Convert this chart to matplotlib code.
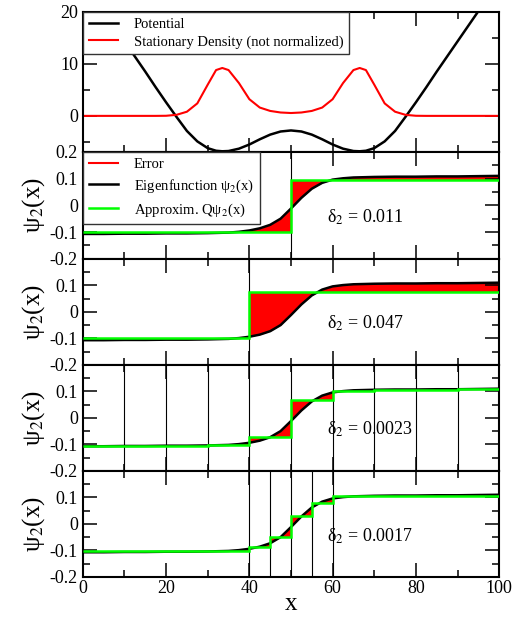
import numpy as np
import matplotlib.pyplot as plt
from matplotlib.ticker import MultipleLocator

plt.rcParams['font.family'] = ['Liberation Serif', 'DejaVu Serif']
plt.rcParams['mathtext.fontset'] = 'stix'

# top panel: potential and stationary density
x_top = [0, 2.5, 5, 7.5, 10, 12.5, 15, 17.5, 20, 22.5, 25, 27.5, 30, 32, 33.5, 35, 37.5, 40, 42.5, 45, 47.5,
         50, 52.5, 55, 57.5, 60, 62.5, 65, 66.5, 68, 70, 72.5, 75, 77.5, 80, 82.5, 85, 87.5, 90, 92.5, 95, 97.5, 100]
potential = [26.0, 23.0, 20.1, 17.2, 14.3, 11.4, 8.5, 5.5, 2.6, -0.2, -2.9, -4.9, -6.2, -6.7, -6.8, -6.75, -6.3,
             -5.5, -4.5, -3.6, -3.0, -2.8, -3.0, -3.6, -4.5, -5.5, -6.3, -6.75, -6.8, -6.7, -6.2, -4.9, -2.9,
             -0.2, 2.6, 5.5, 8.5, 11.4, 14.3, 17.2, 20.1, 23.0, 26.0]
density = [0, 0, 0, 0, 0, 0, 0, 0, 0.02, 0.2, 0.8, 2.4, 6.0, 8.8, 9.2, 8.8, 6.3, 3.2, 1.6, 0.95, 0.65,
           0.55, 0.65, 0.95, 1.6, 3.2, 6.3, 8.8, 9.2, 8.8, 6.0, 2.4, 0.8, 0.2, 0.02, 0, 0, 0, 0, 0, 0, 0, 0]

# second eigenfunction
x_psi = [0, 5, 10, 15, 20, 25, 30, 35, 37.5, 40, 42.5, 45, 47.5, 50, 52.5, 55, 57.5, 60, 62.5, 65,
         70, 75, 80, 85, 90, 95, 100]
psi = [-0.107, -0.107, -0.106, -0.106, -0.105, -0.105, -0.104, -0.102, -0.099, -0.094, -0.086, -0.073,
       -0.050, -0.012, 0.028, 0.062, 0.084, 0.096, 0.101, 0.104, 0.106, 0.107, 0.107, 0.108, 0.108,
       0.109, 0.110]

# piecewise constant approximations (cell edges, levels)
edges_a = [0, 50, 100]
q_a = [-0.100, 0.095]
edges_b = [0, 40, 100]
q_b = [-0.100, 0.076]
edges_c = [0, 10, 20, 30, 40, 50, 60, 70, 80, 90, 100]
q_c = [-0.107, -0.106, -0.105, -0.103, -0.074, 0.067, 0.101, 0.106, 0.107, 0.109]
edges_d = [0, 40, 45, 50, 55, 60, 100]
q_d = [-0.104, -0.086, -0.048, 0.031, 0.078, 0.104]

cuts_a = [50]
cuts_b = [40]
cuts_c = [10, 20, 30, 40, 50, 60, 70, 80, 90]
cuts_d = [40, 45, 50, 55, 60]

deltas = ['0.011', '0.047', '0.0023', '0.0017']

GREEN = '#00ff00'
RED = '#ff0000'


def error_band(edges, levels):
    xs, ps, qs = [], [], []
    for xv, pv in zip(x_psi, psi):
        i = min(np.searchsorted(edges, xv, side='right') - 1, len(levels) - 1)
        if i > 0 and xv == edges[i]:
            xs += [xv, xv]
            ps += [pv, pv]
            qs += [levels[i - 1], levels[i]]
        else:
            xs.append(xv)
            ps.append(pv)
            qs.append(levels[i])
    return xs, ps, qs


def box_legend(ax, spacing):
    leg = ax.legend(loc='upper left', fontsize=10.5, frameon=True, fancybox=False, framealpha=1,
                    borderaxespad=0, handlelength=2, handletextpad=1.1, labelspacing=spacing,
                    borderpad=0.4)
    leg.get_frame().set_edgecolor('#333333')
    leg.get_frame().set_linewidth(1.0)
    leg.set_zorder(5)


fig = plt.figure(figsize=(5.31, 6.19), dpi=100)
gs = fig.add_gridspec(5, 1, height_ratios=[140, 107, 106, 106, 106], hspace=0,
                      left=0.156, right=0.94, top=0.981, bottom=0.068)
axes = [fig.add_subplot(gs[0])]
for k in range(1, 5):
    axes.append(fig.add_subplot(gs[k], sharex=axes[0]))

for ax in axes:
    ax.tick_params(which='both', direction='in', top=True, right=True, labelsize=13, width=1.1)
    ax.tick_params(which='major', length=10)
    ax.tick_params(which='minor', length=5)
    ax.tick_params(axis='x', pad=2)
    for s in ax.spines.values():
        s.set_linewidth(1.5)
    ax.xaxis.set_major_locator(MultipleLocator(20))
    ax.xaxis.set_minor_locator(MultipleLocator(10))
    if ax is not axes[-1]:
        ax.tick_params(labelbottom=False)

ax = axes[0]
ax.plot(x_top, potential, color='black', lw=1.8, label='Potential')
ax.plot(x_top, density, color=RED, lw=1.5, label='Stationary Density (not normalized)')
ax.set_xlim(0, 100)
ax.set_ylim(-6.9, 20)
ax.yaxis.set_major_locator(MultipleLocator(10))
ax.yaxis.set_minor_locator(MultipleLocator(5))
box_legend(ax, 0.3)

panels = [(edges_a, q_a, cuts_a), (edges_b, q_b, cuts_b), (edges_c, q_c, cuts_c), (edges_d, q_d, cuts_d)]
for k, (edges, levels, cuts) in enumerate(panels):
    ax = axes[k + 1]
    xs, ps, qs = error_band(edges, levels)
    ax.fill_between(xs, ps, qs, color=RED, lw=0, zorder=1)
    ax.vlines(cuts, -0.2, 0.2, color='black', lw=0.8, zorder=1.5)
    ax.plot([], [], color=RED, lw=1.5, label='Error')
    ax.plot(x_psi, psi, color='black', lw=1.8, zorder=2, label='Eigenfunction ψ$_2$(x)')
    ax.stairs(levels, edges, baseline=None, color=GREEN, lw=1.8, zorder=3, label='Approxim. Qψ$_2$(x)')
    ax.set_ylim(-0.2, 0.2)
    ax.yaxis.set_minor_locator(MultipleLocator(0.05))
    ax.set_yticks([-0.2, -0.1, 0, 0.1, 0.2])
    if k == 0:
        ax.set_yticklabels(['-0.2', '-0.1', '0', '0.1', '0.2'])
    else:
        # the top label coincides with the "-0.2" of the panel above
        ax.set_yticklabels(['-0.2', '-0.1', '0', '0.1', ''])
    ax.set_ylabel('ψ$_2$(x)', fontsize=18, labelpad=2)
    ax.text(58.7, -0.045, 'δ$_2$ = ' + deltas[k], fontsize=13, ha='left', va='center')
    if k == 0:
        box_legend(ax, 0.45)

axes[-1].set_xlabel('x', fontsize=18, labelpad=-3)

fig.savefig('out.png', dpi=100)
